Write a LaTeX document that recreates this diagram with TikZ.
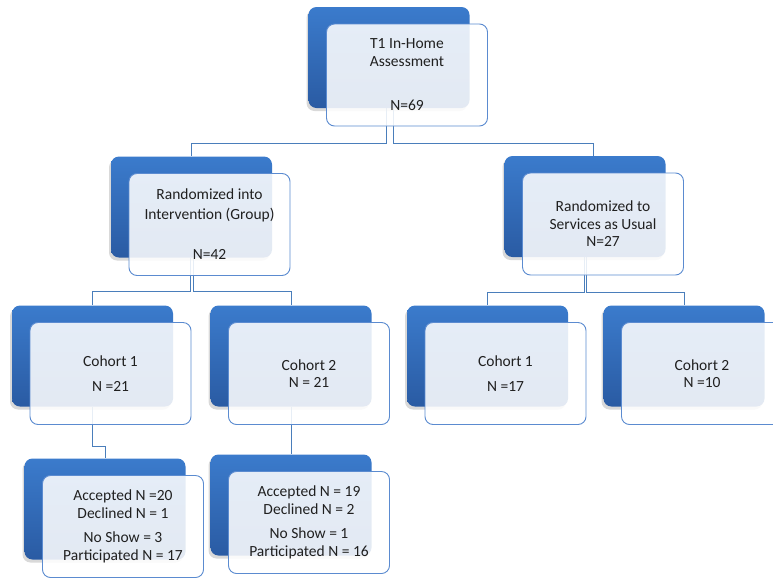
\documentclass[tikz,border=0pt]{standalone}
\usepackage{fontspec}
\setmainfont{Carlito}
\usepackage{tikz}
\usetikzlibrary{calc,positioning,backgrounds,shadows}
\definecolor{boxtop}{HTML}{3B7BCC}
\definecolor{boxbot}{HTML}{2A5BA3}
\definecolor{edge}{HTML}{5B8BD0}
\definecolor{link}{HTML}{4A7EBB}
\definecolor{ink}{HTML}{202020}

\begin{document}
\begin{tikzpicture}[x=1pt,y=-1pt,
    backbox/.style={rectangle,rounded corners=8pt,minimum width=161pt,minimum height=101pt,
      inner sep=0pt,top color=boxtop,bottom color=boxbot,
      drop shadow={shadow xshift=-2pt,shadow yshift=-3pt,opacity=0.3}},
    frontbox/.style={rectangle,rounded corners=8pt,minimum width=161pt,minimum height=102pt,
      inner sep=0pt,draw=edge,line width=0.9pt,fill=white,fill opacity=0.87,text opacity=1,
      text=ink,align=center,font=\fontsize{15.5}{17.5}\selectfont},
    linkline/.style={draw=link,line width=0.8pt}]
  \clip (0,0) rectangle (773,579);
  % boxes: blue card behind, light card in front
  \foreach \n/\x/\y/\t in {
      t1/389/57.5/{T1 In-Home\\Assessment\\[27pt]N=69},
      grp/191.5/207/{Randomized into\\[2pt]Intervention (Group)\\[23pt]N=42},
      sau/585/206.5/{Randomized to\\Services as Usual\\N=27},
      gcA/92.5/356/{Cohort 1\\[8pt]N =21},
      gcB/291/356/{Cohort 2\\N = 21},
      scA/487.5/356/{Cohort 1\\[8pt]N =17},
      scB/684/356/{Cohort 2\\N =10},
      outA/105/509/{Accepted N =20\\Declined N = 1\\[7pt]No Show = 3\\Participated N = 17},
      outB/291/505/{Accepted N = 19\\Declined N = 2\\[7pt]No Show = 1\\Participated N = 16}}{
    \node[backbox] (b\n) at (\x,\y) {};
    \node[frontbox] (\n) at ([shift={(18,17.5)}]b\n.center) {\t};
  }
  % connectors
  \begin{pgfonlayer}{background}
    \draw[linkline] ([xshift=-3pt]bt1.south) -- ++(0,35) -| (bgrp.north);
    \draw[linkline] ([xshift=4pt]bt1.south) -- ++(0,35) -| ([xshift=8pt]bsau.north);
    \draw[linkline] ([xshift=-1.5pt]bgrp.south) -- ++(0,34) -| (bgcA.north);
    \draw[linkline] ([xshift=1.5pt]bgrp.south) -- ++(0,34) -| (bgcB.north);
    \draw[linkline] ([xshift=-1pt]bsau.south) -- ++(0,35) -| (bscA.north);
    \draw[linkline] ([xshift=1pt]bsau.south) -- ++(0,35) -| (bscB.north);
    \draw[linkline] (bgcA.south) -- ++(0,40) -| (boutA.north);
    \draw[linkline] (bgcB.south) -- (boutB.north);
  \end{pgfonlayer}
\end{tikzpicture}
\end{document}
